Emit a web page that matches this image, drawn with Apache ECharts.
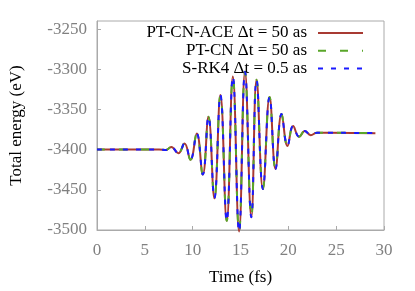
<!DOCTYPE html>
<html>
<head>
<meta charset="utf-8">
<script src="https://cdn.jsdelivr.net/npm/echarts@6/dist/echarts.min.js"></script>
<style>html,body{margin:0;padding:0;background:#fff;}#c{width:415px;height:291px;}</style>
</head>
<body>
<div id="c"></div>
<script>
// Data
const timeFs = [0, 6.5, 7.2, 7.76, 8.5, 9.15, 9.77, 10.43, 11.06, 11.65, 12.27, 12.9, 13.56, 14.2, 14.85, 15.47, 16.13, 16.68, 17.34, 18.04, 18.66, 19.29, 19.91, 20.5, 21.13, 21.72, 22.34, 23.0, 29.1];
const energyACE = [-3400, -3400, -3400.5, -3396.7, -3404.5, -3392.3, -3412.6, -3380, -3431, -3359, -3460.6, -3332, -3488.6, -3309, -3502, -3303, -3484, -3313, -3449, -3334.5, -3424, -3355.7, -3395.5, -3370.7, -3384, -3376.8, -3382, -3379, -3379.5];
const energyCN = [-3400, -3400, -3400.5, -3396.7, -3404.5, -3392.3, -3412.6, -3380, -3431, -3359, -3460.6, -3332, -3488.6, -3309, -3502, -3303, -3484, -3313, -3449, -3334.5, -3424, -3355.7, -3395.5, -3370.7, -3384, -3376.8, -3382, -3379, -3379.5];
const energyRK4 = [-3400, -3400, -3400.5, -3396.7, -3404.5, -3392.3, -3412.6, -3380, -3431, -3359, -3460.6, -3332, -3488.6, -3309, -3502, -3303, -3484, -3313, -3449, -3334.5, -3424, -3355.7, -3395.5, -3370.7, -3384, -3376.8, -3382, -3379, -3379.5];
const seriesNames = ['PT-CN-ACE Δt = 50 as', 'PT-CN Δt = 50 as', 'S-RK4 Δt = 0.5 as'];
const xTicks = [0, 5, 10, 15, 20, 25, 30];
const yTicks = [-3500, -3450, -3400, -3350, -3300, -3250];

const pairs = (xs, ys) => xs.map((x, i) => [x, ys[i]]);
const FONT = 'Liberation Serif';
const chart = echarts.init(document.getElementById('c'), null, {renderer: 'canvas'});
chart.setOption({
  animation: false,
  backgroundColor: '#fff',
  grid: {left: 95, right: 31, top: 21, bottom: 56, show: true, borderColor: '#aaaaaa', borderWidth: 1, containLabel: false},
  legend: {
    orient: 'vertical', align: 'right', right: 51, top: 24, padding: 0, itemGap: 0,
    itemWidth: 45, itemHeight: 14,
    data: seriesNames,
    itemStyle: {color: 'transparent', borderColor: 'transparent', borderWidth: 0, opacity: 0},
    textStyle: {fontFamily: FONT, fontSize: 17, color: '#000', lineHeight: 17.8, padding: [0, 6, 0, 0]}
  },
  xAxis: {
    type: 'value', min: xTicks[0], max: xTicks[xTicks.length - 1], interval: 5,
    name: 'Time (fs)', nameLocation: 'middle', nameGap: 39,
    nameTextStyle: {fontFamily: FONT, fontSize: 17, color: '#000'},
    axisLine: {show: true, lineStyle: {color: '#aaaaaa'}},
    axisTick: {show: true, inside: true, length: 4, lineStyle: {color: '#aaaaaa'}},
    axisLabel: {fontFamily: FONT, fontSize: 17, color: '#808080', margin: 12},
    splitLine: {show: false}
  },
  yAxis: {
    type: 'value', min: -3500, max: -3240, interval: 50,
    name: 'Total energy (eV)', nameLocation: 'middle', nameGap: 72,
    nameTextStyle: {fontFamily: FONT, fontSize: 17, color: '#000'},
    axisLine: {show: true, lineStyle: {color: '#aaaaaa'}},
    axisTick: {show: true, inside: true, length: 4, lineStyle: {color: '#aaaaaa'}},
    axisLabel: {fontFamily: FONT, fontSize: 17, color: '#808080', margin: 10, showMaxLabel: false,
      formatter: v => (yTicks.indexOf(v) >= 0 ? String(v) : '')},
    splitLine: {show: false}
  },
  series: [
    {name: seriesNames[0], type: 'line', data: pairs(timeFs, energyACE), smooth: 0.45, symbol: 'none', clip: false,
     lineStyle: {color: '#a83a32', width: 2, type: 'solid'}, itemStyle: {color: '#a83a32'}},
    {name: seriesNames[1], type: 'line', data: pairs(timeFs, energyCN), smooth: 0.45, symbol: 'none', clip: false,
     lineStyle: {color: '#5aa62a', width: 2, type: [8, 14]}, itemStyle: {color: '#5aa62a'}},
    {name: seriesNames[2], type: 'line', data: pairs(timeFs, energyRK4), smooth: 0.45, symbol: 'none', clip: false,
     lineStyle: {color: '#1a1aff', width: 2, type: [5, 8]}, itemStyle: {color: '#1a1aff'}}
  ]
});
</script>
</body>
</html>
